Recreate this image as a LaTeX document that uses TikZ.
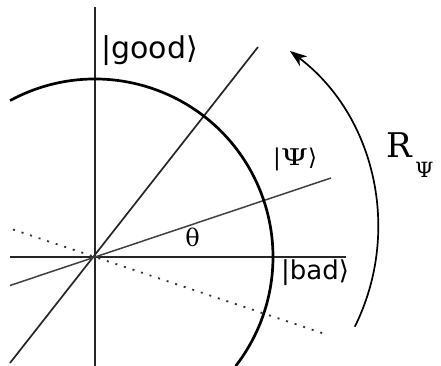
\documentclass[tikz,border=0pt]{standalone}
\usepackage{fontspec}
\setmainfont{DejaVu Sans}
\newfontfamily\serifdv{DejaVu Serif}
\usetikzlibrary{arrows.meta,calc}
\begin{document}
\begin{tikzpicture}[x=1pt,y=1pt,
  axisline/.style={line width=1.7pt, black!85},
  thinline/.style={line width=1.7pt, black!85},
  dotline/.style={line width=1.8pt, black!80, dash pattern=on 2pt off 7pt},
  circline/.style={line width=2.7pt, black},
  rotarrow/.style={line width=1.7pt, black, -{Stealth[length=17pt,width=12pt,inset=5pt]}},
  lbl/.style={inner sep=0pt, anchor=base west}]
\useasboundingbox (0,0) rectangle (441,366);
\coordinate (O) at (95,109);
% axes
\coordinate (vtop) at (95,359);
\coordinate (vbot) at (95,0);
\coordinate (hl) at (10,109);
\coordinate (hr) at (346,109);
\draw[axisline] (vbot) -- (vtop);
\draw[axisline] (hl) -- (hr);
% diagonal line
\coordinate (dl) at (10,3);
\coordinate (dr) at (258,319);
\draw[thinline] (dl) -- (dr);
% psi line
\coordinate (pl) at (10,80.5);
\coordinate (pr) at (331,188);
\draw[thinline, line width=1.5pt, black!75] (pl) -- (pr);
% reflected dotted line
\coordinate (ql) at (13,136.5);
\coordinate (qr) at (328,31);
\draw[dotline] (ql) -- (qr);
% circle arc
\coordinate (cstart) at ($(O)+(118.5:178)$);
\draw[circline] (cstart) arc[start angle=118.5, end angle=-37.8, radius=178];
% rotation arrow
\coordinate (astart) at (354.8,39.3);
\draw[rotarrow] (astart) arc[start angle=-26.4, end angle=52.9, radius=222];
% labels
\node[lbl, font=\fontsize{30}{30}\selectfont] (good) at (101,307) {|good⟩};
\node[lbl, font=\fontsize{26}{26}\selectfont] (bad) at (281,86) {|bad⟩};
\node[lbl, font=\fontsize{23}{23}\selectfont] (psi) at (273,200) {|{\serifdv\scalebox{1.35}[1]{Ψ}}⟩};
\node[lbl, font=\serifdv\fontsize{34}{34}\selectfont] (R) at (386,208) {R};
\node[lbl, font=\serifdv\fontsize{21}{21}\selectfont] (Rsub) at (415,188) {Ψ};
\node[inner sep=0pt, font=\serifdv\fontsize{24}{24}\selectfont] (theta) at (192.5,129) {θ};
\end{tikzpicture}
\end{document}
